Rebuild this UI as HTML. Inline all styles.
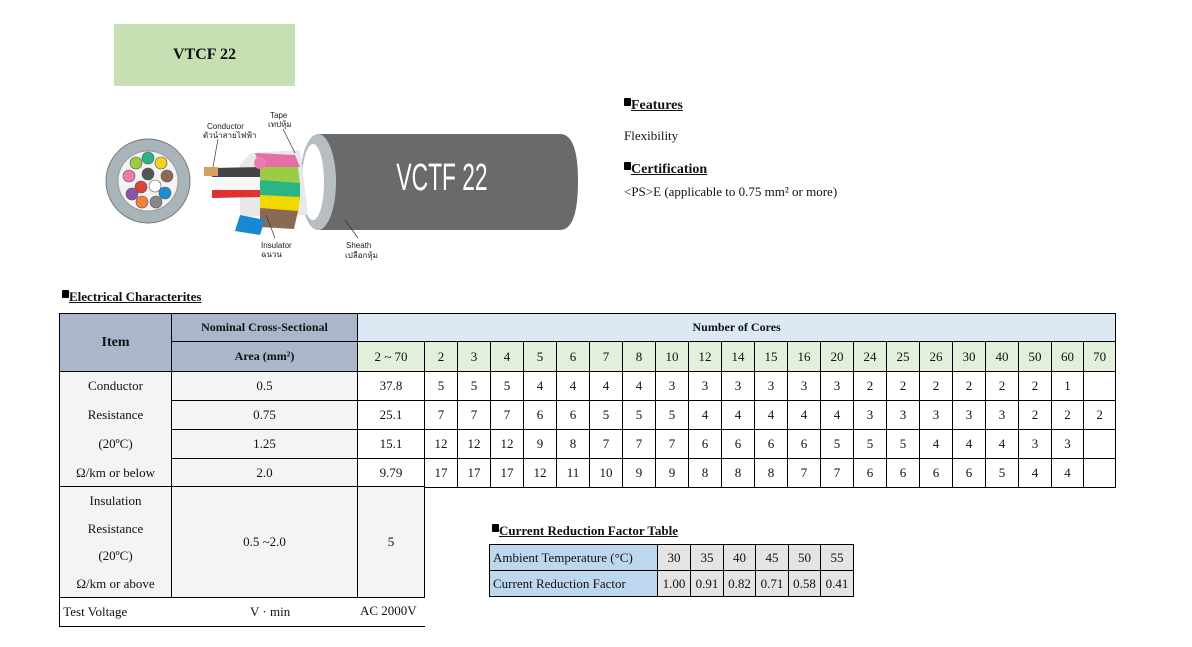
<!DOCTYPE html>
<html><head><meta charset="utf-8"><style>
body{margin:0;width:1192px;height:647px;background:#fff;position:relative;overflow:hidden;font-family:"Liberation Serif",serif;color:#111}
.abs{position:absolute}
table{border-collapse:collapse;table-layout:fixed;position:absolute;font-size:13px}
td{border:1px solid #000;text-align:center;padding:0;white-space:nowrap;overflow:hidden}
.h{background:#aab7ca;font-weight:bold}
.lb{background:#dce8f4;font-weight:bold;font-size:12px}
.g{background:#e2efda}
.l{background:#f4f4f4}
.hd{font-weight:bold;text-decoration:underline;font-size:14px}
.sq{display:inline-block;width:7px;height:8px;background:#000;vertical-align:top;margin-top:2px;border-radius:1px}
</style></head><body>
<div class="abs" style="left:114px;top:24px;width:181px;height:62px;background:#c6e0b4;text-align:center;line-height:62px;font-weight:bold;font-size:16px">VTCF 22</div>

<svg class="abs" style="left:100px;top:105px" width="490" height="165">
<circle cx="48" cy="76" r="42" fill="#a9b3ba" stroke="#777"/>
<circle cx="48" cy="76" r="30" fill="#f3f3f3" stroke="#999"/>
<g stroke="#555" stroke-width="0.6">
<circle cx="48" cy="53" r="6" fill="#2bb584"/><circle cx="36" cy="58" r="6" fill="#9acd45"/><circle cx="61" cy="58" r="6" fill="#f2d21a"/>
<circle cx="29" cy="71" r="6" fill="#f07ab0"/><circle cx="48" cy="69" r="6" fill="#555"/><circle cx="67" cy="71" r="6" fill="#8c6a55"/>
<circle cx="41" cy="82" r="6" fill="#e04040"/><circle cx="55" cy="81" r="6" fill="#fff"/><circle cx="32" cy="89" r="6" fill="#8a55aa"/>
<circle cx="65" cy="88" r="6" fill="#1a8ed0"/><circle cx="42" cy="97" r="6" fill="#f0823a"/><circle cx="56" cy="97" r="6" fill="#888"/>
</g>
<path d="M218 29 L460 29 Q478 29 478 76 Q478 125 460 125 L218 125 Z" fill="#686a6c"/>
<ellipse cx="218" cy="77" rx="18" ry="48" fill="#b6bec4"/>
<ellipse cx="213" cy="77" rx="11" ry="38" fill="#fff"/>
<polygon points="150,48 200,45 208,110 140,112 140,60" fill="#e8e8e8"/>
<polygon points="155,48 195,50 200,62 160,62" fill="#e36fa4"/>
<polygon points="158,62 198,62 200,80 158,82" fill="#9acd45"/>
<polygon points="160,75 200,78 200,95 160,96" fill="#2bb584"/>
<polygon points="160,90 200,92 198,108 160,110" fill="#f2d800"/>
<polygon points="160,103 198,106 194,124 160,122" fill="#8a6a55"/>
<polygon points="140,110 165,115 160,130 135,126" fill="#1a88d0"/>
<path d="M112 63 L160 62 L160 72 L112 72 Z" fill="#444"/>
<path d="M112 85 L160 85 L160 92 L112 93 Z" fill="#e03030"/>
<rect x="115" y="72" width="45" height="13" fill="#f8f8f8"/>
<circle cx="160" cy="58" r="6" fill="#f07ab0"/>
<rect x="104" y="62" width="14" height="9" fill="#d6a060"/>
<text transform="translate(342,85) scale(0.6,1)" fill="#fff" font-family="Liberation Sans,sans-serif" font-size="38" text-anchor="middle">VCTF 22</text>
<g font-family="Liberation Sans,sans-serif" font-size="8" fill="#222">
<text x="107" y="24">Conductor</text><text x="103" y="33">ตัวนำสายไฟฟ้า</text>
<text x="170" y="13">Tape</text><text x="168" y="22">เทปหุ้ม</text>
<text x="161" y="143">Insulator</text><text x="161" y="152">ฉนวน</text>
<text x="246" y="143">Sheath</text><text x="245" y="153">เปลือกหุ้ม</text>
</g>
<g stroke="#333" stroke-width="0.7" fill="none">
<line x1="118" y1="34" x2="113" y2="62"/><line x1="183" y1="24" x2="195" y2="48"/>
<line x1="175" y1="133" x2="166" y2="110"/><line x1="258" y1="133" x2="245" y2="115"/>
</g>
</svg>

<div class="abs" style="left:624px;top:96px"><span class="sq"></span><span class="hd">Features</span></div>
<div class="abs" style="left:624px;top:128px;font-size:13px">Flexibility</div>
<div class="abs" style="left:624px;top:160px"><span class="sq"></span><span class="hd">Certification</span></div>
<div class="abs" style="left:624px;top:184px;font-size:13px">&lt;PS&gt;E (applicable to 0.75 mm² or more)</div>

<div class="abs" style="left:62px;top:288px"><span class="sq"></span><span class="hd" style="font-size:13px">Electrical Characterites</span></div>

<table style="left:59px;top:313px;width:1057px">
<colgroup><col style="width:112px"><col style="width:186px"><col style="width:67px">
<col style="width:33px"><col style="width:33px"><col style="width:33px"><col style="width:33px"><col style="width:33px"><col style="width:33px"><col style="width:33px"><col style="width:33px"><col style="width:33px"><col style="width:33px"><col style="width:33px"><col style="width:33px"><col style="width:33px"><col style="width:33px"><col style="width:33px"><col style="width:33px"><col style="width:33px"><col style="width:33px"><col style="width:33px"><col style="width:32px"><col style="width:32px"></colgroup>
<tr style="height:28px"><td class="h" rowspan="2" style="font-size:14px">Item</td><td class="h" style="font-size:12px">Nominal Cross-Sectional</td><td class="lb" colspan="22">Number of Cores</td></tr>
<tr style="height:30px" class="g"><td class="h" style="font-size:12px">Area (mm²)</td><td>2 ~ 70</td><td>2</td><td>3</td><td>4</td><td>5</td><td>6</td><td>7</td><td>8</td><td>10</td><td>12</td><td>14</td><td>15</td><td>16</td><td>20</td><td>24</td><td>25</td><td>26</td><td>30</td><td>40</td><td>50</td><td>60</td><td>70</td></tr>
<tr style="height:29px"><td class="l" style="border-bottom:none">Conductor</td><td class="l">0.5</td><td>37.8</td><td>5</td><td>5</td><td>5</td><td>4</td><td>4</td><td>4</td><td>4</td><td>3</td><td>3</td><td>3</td><td>3</td><td>3</td><td>3</td><td>2</td><td>2</td><td>2</td><td>2</td><td>2</td><td>2</td><td>1</td><td></td></tr>
<tr style="height:29px"><td class="l" style="border-top:none;border-bottom:none">Resistance</td><td class="l">0.75</td><td>25.1</td><td>7</td><td>7</td><td>7</td><td>6</td><td>6</td><td>5</td><td>5</td><td>5</td><td>4</td><td>4</td><td>4</td><td>4</td><td>4</td><td>3</td><td>3</td><td>3</td><td>3</td><td>3</td><td>2</td><td>2</td><td>2</td></tr>
<tr style="height:29px"><td class="l" style="border-top:none;border-bottom:none">(20ºC)</td><td class="l">1.25</td><td>15.1</td><td>12</td><td>12</td><td>12</td><td>9</td><td>8</td><td>7</td><td>7</td><td>7</td><td>6</td><td>6</td><td>6</td><td>6</td><td>5</td><td>5</td><td>5</td><td>4</td><td>4</td><td>4</td><td>3</td><td>3</td><td></td></tr>
<tr style="height:29px"><td class="l" style="border-top:none">Ω/km or below</td><td class="l">2.0</td><td>9.79</td><td>17</td><td>17</td><td>17</td><td>12</td><td>11</td><td>10</td><td>9</td><td>9</td><td>8</td><td>8</td><td>8</td><td>7</td><td>7</td><td>6</td><td>6</td><td>6</td><td>6</td><td>5</td><td>4</td><td>4</td><td></td></tr>
</table>

<table style="left:59px;top:486px;width:366px">
<colgroup><col style="width:112px"><col style="width:186px"><col style="width:67px"></colgroup>
<tr style="height:111px" class="l"><td style="line-height:27.5px">Insulation<br>Resistance<br>(20ºC)<br>Ω/km or above</td><td>0.5 ~2.0</td><td>5</td></tr>
<tr style="height:29px"><td colspan="3" style="text-align:left;position:relative;border-right:none">&nbsp;Test Voltage<span style="position:absolute;left:190px;top:6px">V · min</span><span style="position:absolute;left:300px;top:5px">AC 2000V</span></td></tr>
</table>

<div class="abs" style="left:492px;top:522px"><span class="sq"></span><span class="hd" style="font-size:13px">Current Reduction Factor Table</span></div>
<table style="left:489px;top:544px;width:364px">
<colgroup><col style="width:168px"><col style="width:33px"><col style="width:33px"><col style="width:32px"><col style="width:33px"><col style="width:32px"><col style="width:33px"></colgroup>
<tr style="height:26px"><td style="background:#bdd7ee;text-align:left;padding-left:3px">Ambient Temperature (°C)</td><td style="background:#e4e4e4">30</td><td style="background:#e4e4e4">35</td><td style="background:#e4e4e4">40</td><td style="background:#e4e4e4">45</td><td style="background:#e4e4e4">50</td><td style="background:#e4e4e4">55</td></tr>
<tr style="height:26px"><td style="background:#bdd7ee;text-align:left;padding-left:3px">Current Reduction Factor</td><td style="background:#e4e4e4">1.00</td><td style="background:#e4e4e4">0.91</td><td style="background:#e4e4e4">0.82</td><td style="background:#e4e4e4">0.71</td><td style="background:#e4e4e4">0.58</td><td style="background:#e4e4e4">0.41</td></tr>
</table>
</body></html>
